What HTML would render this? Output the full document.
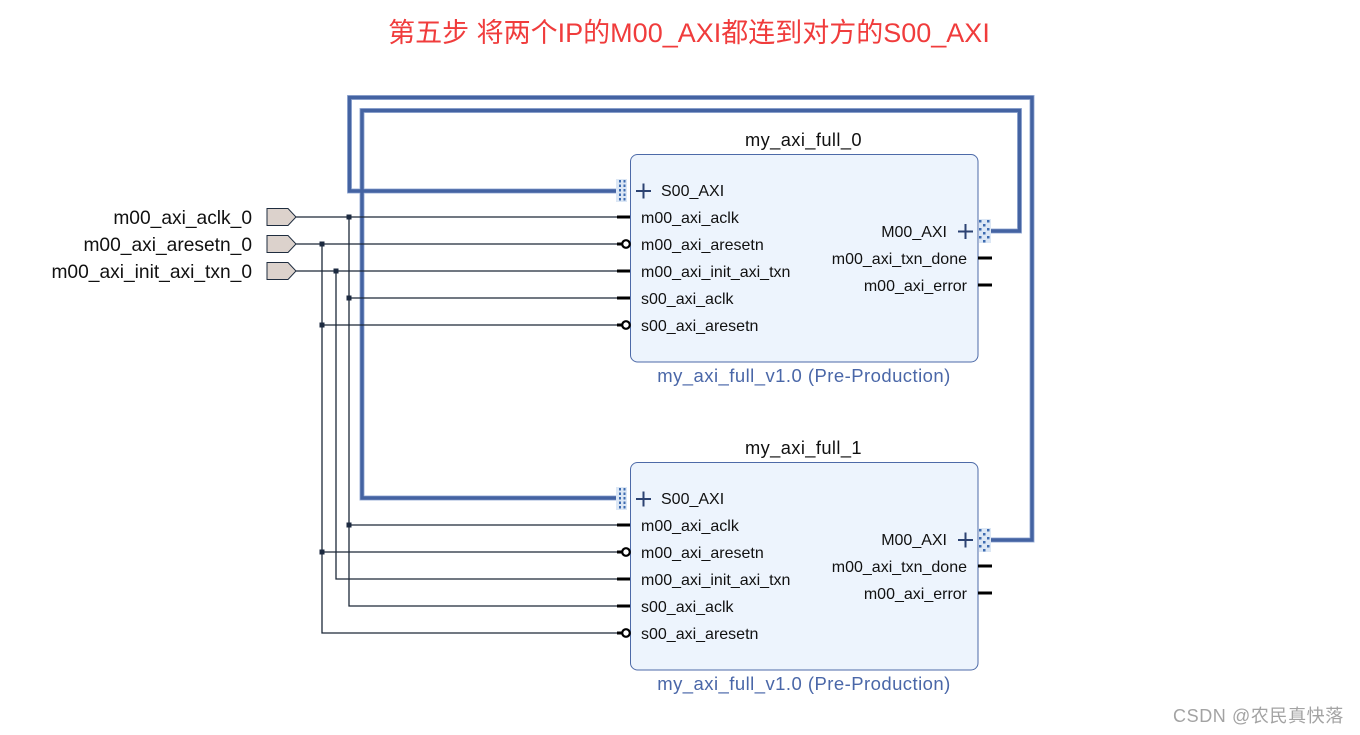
<!DOCTYPE html>
<html>
<head>
<meta charset="utf-8">
<style>
html,body{margin:0;padding:0;background:#fff;}
svg{display:block;}
text{font-family:"Liberation Sans","Noto Sans CJK SC",sans-serif;}
</style>
</head>
<body>
<svg width="1360" height="735" viewBox="0 0 1360 735" xmlns="http://www.w3.org/2000/svg">
<rect width="1360" height="735" fill="#fff"/>
<!-- Title -->
<text x="689" y="42" text-anchor="middle" font-size="27" fill="#f03c3c">第五步 将两个IP的M00_AXI都连到对方的S00_AXI</text>

<!-- Buses -->
<g fill="none" stroke-linejoin="miter">
<path d="M991 231 H1019.5 V110.5 H362 V498 H616" stroke="#9fb3d8" stroke-width="5"/>
<path d="M991 540 H1032 V97.5 H349.5 V191 H616" stroke="#9fb3d8" stroke-width="5"/>
<path d="M991 231 H1019.5 V110.5 H362 V498 H616" stroke="#4463a2" stroke-width="3.4"/>
<path d="M991 540 H1032 V97.5 H349.5 V191 H616" stroke="#4463a2" stroke-width="3.4"/>
</g>

<!-- Thin wires -->
<g fill="none" stroke="#1c2838" stroke-width="1.3">
<path d="M296 217 H618"/>
<path d="M349 217 V606 H618"/>
<path d="M349 298 H618"/>
<path d="M349 525 H618"/>
<path d="M296 244 H622"/>
<path d="M322 244 V633 H622"/>
<path d="M322 325 H622"/>
<path d="M322 552 H622"/>
<path d="M296 271 H618"/>
<path d="M336 271 V579 H618"/>
</g>
<g fill="#1c2a40">
<rect x="346.5" y="214.5" width="5" height="5"/>
<rect x="346.5" y="295.5" width="5" height="5"/>
<rect x="346.5" y="522.5" width="5" height="5"/>
<rect x="319.5" y="241.5" width="5" height="5"/>
<rect x="319.5" y="322.5" width="5" height="5"/>
<rect x="319.5" y="549.5" width="5" height="5"/>
<rect x="333.5" y="268.5" width="5" height="5"/>
</g>

<!-- External ports -->
<g fill="#dcd2cc" stroke="#1f2d3f" stroke-width="1">
<polygon points="267,208.5 288,208.5 296,217 288,225.5 267,225.5"/>
<polygon points="267,235.5 288,235.5 296,244 288,252.5 267,252.5"/>
<polygon points="267,262.5 288,262.5 296,271 288,279.5 267,279.5"/>
</g>
<g font-size="19.2" fill="#111" text-anchor="end">
<text x="252" y="224">m00_axi_aclk_0</text>
<text x="252" y="251">m00_axi_aresetn_0</text>
<text x="252" y="278">m00_axi_init_axi_txn_0</text>
</g>

<g>
<rect x="630.5" y="154.5" width="347.5" height="207.5" rx="7" ry="7" fill="#edf4fd" stroke="#4d6aa8" stroke-width="1"/>
<text x="803.5" y="146" text-anchor="middle" font-size="18.3" letter-spacing="0.4" fill="#111">my_axi_full_0</text>
<text x="804" y="382" text-anchor="middle" font-size="18.5" letter-spacing="0.45" fill="#4a67a8">my_axi_full_v1.0 (Pre-Production)</text>
<rect x="616" y="179" width="11" height="23" fill="#dce7f5"/>
<g fill="#3d6bb0">
<rect x="619" y="180" width="2" height="2.5"/><rect x="623.5" y="180" width="2" height="2.5"/>
<rect x="619" y="184.5" width="2" height="2.5"/><rect x="623.5" y="184.5" width="2" height="2.5"/>
<rect x="619" y="189" width="2" height="2.5"/><rect x="623.5" y="189" width="2" height="2.5"/>
<rect x="619" y="193.5" width="2" height="2.5"/><rect x="623.5" y="193.5" width="2" height="2.5"/>
<rect x="619" y="198" width="2" height="2.5"/><rect x="623.5" y="198" width="2" height="2.5"/>
</g>
<path d="M636 191 H651 M643.5 183.5 V198.5" stroke="#2c4272" stroke-width="2"/>
<rect x="979" y="219" width="12" height="24" fill="#dce7f5"/>
<g fill="#3d6bb0">
<rect x="979" y="220" width="2.5" height="2.5"/><rect x="987" y="220" width="2.5" height="2.5"/>
<rect x="983" y="224" width="2.5" height="2.5"/>
<rect x="979" y="228" width="2.5" height="2.5"/><rect x="987" y="228" width="2.5" height="2.5"/>
<rect x="983" y="232" width="2.5" height="2.5"/>
<rect x="979" y="236" width="2.5" height="2.5"/><rect x="987" y="236" width="2.5" height="2.5"/>
<rect x="983" y="240" width="2.5" height="2.5"/>
</g>
<path d="M958 231.5 H973 M965.5 224 V239" stroke="#2c4272" stroke-width="2"/>
<g stroke="#000" stroke-width="3">
<path d="M617 217 H630"/><path d="M617 244 H622"/><path d="M617 271 H630"/><path d="M617 298 H630"/><path d="M617 325 H622"/>
<path d="M978 258 H992"/><path d="M978 285 H992"/>
</g>
<g fill="#fff" stroke="#000" stroke-width="2.2">
<circle cx="626" cy="244" r="3.8"/><circle cx="626" cy="325" r="3.8"/>
</g>
<g font-size="16" fill="#111">
<text x="661" y="196">S00_AXI</text>
<text x="641" y="223">m00_axi_aclk</text>
<text x="641" y="250">m00_axi_aresetn</text>
<text x="641" y="277">m00_axi_init_axi_txn</text>
<text x="641" y="304">s00_axi_aclk</text>
<text x="641" y="331">s00_axi_aresetn</text>
</g>
<g font-size="16" fill="#111" text-anchor="end">
<text x="947" y="237">M00_AXI</text>
<text x="967" y="264">m00_axi_txn_done</text>
<text x="967" y="291">m00_axi_error</text>
</g>
</g>

<g transform="translate(0,308)">
<rect x="630.5" y="154.5" width="347.5" height="207.5" rx="7" ry="7" fill="#edf4fd" stroke="#4d6aa8" stroke-width="1"/>
<text x="803.5" y="146" text-anchor="middle" font-size="18.3" letter-spacing="0.4" fill="#111">my_axi_full_1</text>
<text x="804" y="382" text-anchor="middle" font-size="18.5" letter-spacing="0.45" fill="#4a67a8">my_axi_full_v1.0 (Pre-Production)</text>
<rect x="616" y="179" width="11" height="23" fill="#dce7f5"/>
<g fill="#3d6bb0">
<rect x="619" y="180" width="2" height="2.5"/><rect x="623.5" y="180" width="2" height="2.5"/>
<rect x="619" y="184.5" width="2" height="2.5"/><rect x="623.5" y="184.5" width="2" height="2.5"/>
<rect x="619" y="189" width="2" height="2.5"/><rect x="623.5" y="189" width="2" height="2.5"/>
<rect x="619" y="193.5" width="2" height="2.5"/><rect x="623.5" y="193.5" width="2" height="2.5"/>
<rect x="619" y="198" width="2" height="2.5"/><rect x="623.5" y="198" width="2" height="2.5"/>
</g>
<path d="M636 191 H651 M643.5 183.5 V198.5" stroke="#2c4272" stroke-width="2"/>
<rect x="979" y="220" width="12" height="24" fill="#dce7f5"/>
<g fill="#3d6bb0">
<rect x="979" y="221" width="2.5" height="2.5"/><rect x="987" y="221" width="2.5" height="2.5"/>
<rect x="983" y="225" width="2.5" height="2.5"/>
<rect x="979" y="229" width="2.5" height="2.5"/><rect x="987" y="229" width="2.5" height="2.5"/>
<rect x="983" y="233" width="2.5" height="2.5"/>
<rect x="979" y="237" width="2.5" height="2.5"/><rect x="987" y="237" width="2.5" height="2.5"/>
<rect x="983" y="241" width="2.5" height="2.5"/>
</g>
<path d="M958 232 H973 M965.5 224.5 V239.5" stroke="#2c4272" stroke-width="2"/>
<g stroke="#000" stroke-width="3">
<path d="M617 217 H630"/><path d="M617 244 H622"/><path d="M617 271 H630"/><path d="M617 298 H630"/><path d="M617 325 H622"/>
<path d="M978 258 H992"/><path d="M978 285 H992"/>
</g>
<g fill="#fff" stroke="#000" stroke-width="2.2">
<circle cx="626" cy="244" r="3.8"/><circle cx="626" cy="325" r="3.8"/>
</g>
<g font-size="16" fill="#111">
<text x="661" y="196">S00_AXI</text>
<text x="641" y="223">m00_axi_aclk</text>
<text x="641" y="250">m00_axi_aresetn</text>
<text x="641" y="277">m00_axi_init_axi_txn</text>
<text x="641" y="304">s00_axi_aclk</text>
<text x="641" y="331">s00_axi_aresetn</text>
</g>
<g font-size="16" fill="#111" text-anchor="end">
<text x="947" y="237">M00_AXI</text>
<text x="967" y="264">m00_axi_txn_done</text>
<text x="967" y="291">m00_axi_error</text>
</g>
</g>

<!-- Watermark -->
<text x="1173" y="722" font-size="18" letter-spacing="0.6" fill="#a3a3a3">CSDN @农民真快落</text>
</svg>
</body>
</html>
